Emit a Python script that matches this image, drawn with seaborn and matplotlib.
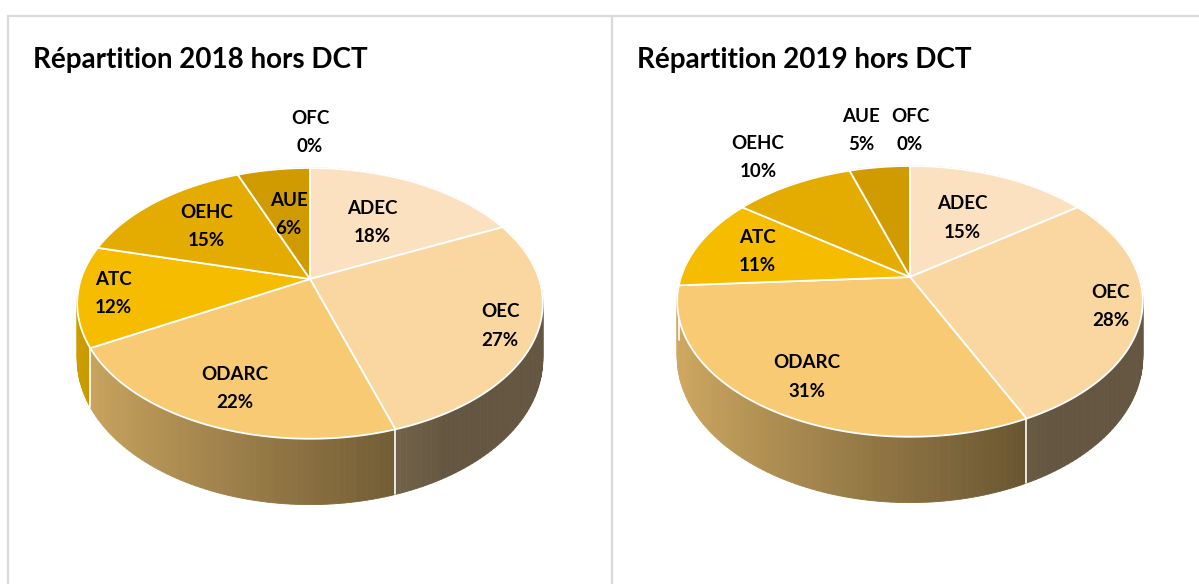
import numpy as np
import matplotlib
matplotlib.use('Agg')
import matplotlib.pyplot as plt
from matplotlib.colors import to_rgb
import seaborn as sns

sns.set_theme(style='white')
plt.rcParams['font.family'] = ['Lato', 'DejaVu Sans']

# data
categories = ['ADEC', 'OEC', 'ODARC', 'ATC', 'OEHC', 'AUE', 'OFC']
values_2018 = [18, 27, 22, 12, 15, 6, 0]
values_2019 = [15, 28, 31, 11, 10, 5, 0]
titles = ['Répartition 2018 hors DCT', 'Répartition 2019 hors DCT']

slice_colors = ['#FBE1BF', '#FAD7A0', '#F8CA74', '#F5BC00', '#E4AB00', '#D09B00', '#C08A00']

# layout (pixels)
W, H = 1199, 584
A, B, K, DEPTH = 229, 131, 0.18, 54
centers = [(310, 279), (910, 277)]
label_r = [[0.55, 0.85, 0.78, 0.85, 0.65, 0.55, 1.4],
           [0.55, 0.87, 0.78, 0.72, 1.35, 1.42, 1.4]]
label_dx = [[0, 0, 0, 0, 0, 0, 0],
            [0, 0, 0, 0, 0, -8, 0]]
title_x = [33, 637]


def proj(u, v, cx, cy, drop=0.0):
    d = 1 + K * v
    return cx + A * u / d, cy - B * v / d + drop / d


def shade(u):
    return np.clip(0.55 - 0.3 * u, 0.4, 0.9)


fig = plt.figure(figsize=(W / 100, H / 100), dpi=100)
ax = fig.add_axes([0, 0, 1, 1])
ax.set_xlim(0, W)
ax.set_ylim(H, 0)
ax.axis('off')

# panel borders
grey = '#D9D9D9'
ax.plot([8, W], [16, 16], color=grey, lw=1.6)
ax.plot([8, 8], [16, H], color=grey, lw=1.6)
ax.plot([612, 612], [16, H], color=grey, lw=1.6)

for p, values in enumerate([values_2018, values_2019]):
    cx, cy = centers[p]
    total = float(sum(values))
    bounds = np.concatenate([[0], np.cumsum(values)]) / total * 2 * np.pi

    # side wall, drawn back to front
    quads = []
    for i, val in enumerate(values):
        if val == 0:
            continue
        th = np.linspace(bounds[i], bounds[i + 1], max(int(val * 3), 4))
        for a0, a1 in zip(th[:-1], th[1:]):
            vm = np.cos((a0 + a1) / 2)
            quads.append((vm, i, a0, a1))
    quads.sort(key=lambda q: -q[0])
    for vm, i, a0, a1 in quads:
        um = np.sin((a0 + a1) / 2)
        col = np.array(to_rgb(slice_colors[i])) * shade(um)
        pts = [proj(np.sin(a0), np.cos(a0), cx, cy), proj(np.sin(a1), np.cos(a1), cx, cy),
               proj(np.sin(a1), np.cos(a1), cx, cy, DEPTH), proj(np.sin(a0), np.cos(a0), cx, cy, DEPTH)]
        xs, ys = zip(*pts)
        ax.fill(xs, ys, color=col, lw=0.6, ec=col, zorder=1)

    # white seams on the front wall
    for b in bounds:
        if np.cos(b) < 0:
            x0, y0 = proj(np.sin(b), np.cos(b), cx, cy)
            x1, y1 = proj(np.sin(b), np.cos(b), cx, cy, DEPTH)
            ax.plot([x0, x1], [y0, y1], color='white', lw=1.2, zorder=2)

    # top face
    for i, val in enumerate(values):
        if val == 0:
            continue
        th = np.linspace(bounds[i], bounds[i + 1], max(int(val * 4), 6))
        xs, ys = proj(np.sin(th), np.cos(th), cx, cy)
        xs = np.concatenate([[cx], xs])
        ys = np.concatenate([[cy], ys])
        ax.fill(xs, ys, color=slice_colors[i], ec='white', lw=1.3, zorder=3)

    # labels
    for i, val in enumerate(values):
        mid = (bounds[i] + bounds[i + 1]) / 2
        r = label_r[p][i]
        lx, ly = proj(r * np.sin(mid), r * np.cos(mid), cx, cy)
        ax.text(lx + label_dx[p][i], ly, f'{categories[i]}\n{val}%', ha='center', va='center',
                fontsize=13.5, fontweight='bold', linespacing=1.8, color='black', zorder=5)

    ax.text(title_x[p], 60, titles[p], ha='left', va='center', fontsize=20,
            fontweight='bold', color='black')

fig.savefig('out.png', dpi=100)
